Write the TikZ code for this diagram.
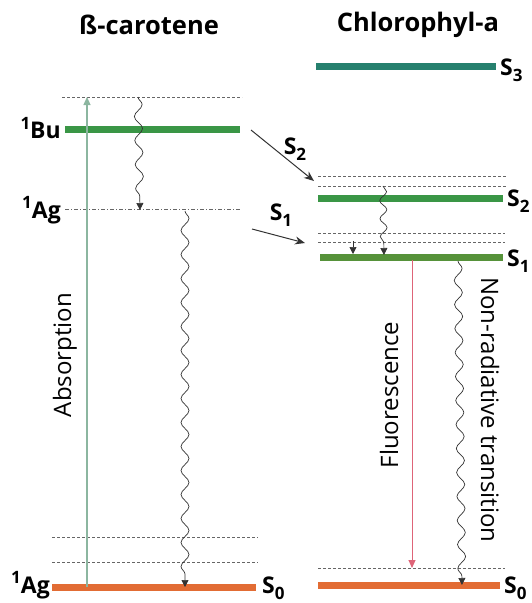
\documentclass[tikz,border=0pt]{standalone}
\usepackage{fontspec}
\setmainfont{Open Sans}
\usetikzlibrary{arrows.meta,decorations.pathmorphing}
\definecolor{levgreen}{RGB}{58,150,70}
\definecolor{levolive}{RGB}{86,146,58}
\definecolor{levteal}{RGB}{38,128,110}
\definecolor{levorange}{RGB}{226,108,52}
\definecolor{absgreen}{RGB}{140,182,160}
\definecolor{fluored}{RGB}{222,100,120}
\newcommand{\sublvl}[2]{#1\raisebox{-0.45ex}{\fontsize{17}{17}\selectfont #2}}
\newcommand{\suplvl}[2]{\raisebox{0.75ex}{\fontsize{17}{17}\selectfont #1}#2}
\begin{document}
\begin{tikzpicture}[x=1pt,y=-1pt,
  bar/.style={line width=7pt},
  sublevel/.style={densely dashed, gray!80!black, line width=0.8pt},
  dotlevel/.style={dash pattern=on 4pt off 2pt on 1pt off 2pt, gray!80!black, line width=0.8pt},
  lbl/.style={font=\fontsize{23}{23}\selectfont\bfseries, inner sep=0pt},
  ttl/.style={font=\fontsize{25.5}{25.5}\selectfont\bfseries, inner sep=0pt},
  vtext/.style={font=\fontsize{24}{24}\selectfont, inner sep=0pt},
  tip/.style={-{Triangle[width=7pt,length=7pt]}},
  wavy/.style={tip, black!80, line width=0.7pt, decorate,
    decoration={snake, amplitude=4pt, segment length=24pt, post length=6pt}},
  transfer/.style={-{Stealth[width=8pt,length=10pt]}, black!80, line width=1pt}]
\useasboundingbox (0,0) rectangle (531,603);

% titles
\node[ttl] (tcar) at (149,25) {ß-carotene};
\node[ttl] (tchl) at (418,25) {Chlorophyl-a};

% ---- beta-carotene levels ----
\draw[sublevel] (62,97) coordinate (bTopL) -- (242,97) coordinate (bTopR);
\draw[bar, levgreen] (65,129) coordinate (buL) -- (240,129) coordinate (buR);
\draw[dotlevel] (65,209) coordinate (agL) -- (240,209) coordinate (agR);
\draw[sublevel] (52,537) -- (258,537);
\draw[sublevel] (52,562) -- (258,562);
\draw[bar, levorange] (52,587) coordinate (g0L) -- (256,587) coordinate (g0R);

\node[lbl, anchor=east] (lbu) at (61,128) {\suplvl{1}{Bu}};
\node[lbl, anchor=east] (lag) at (61,210) {\suplvl{1}{Ag}};
\node[lbl, anchor=east] (lag0) at (50,585) {\suplvl{1}{Ag}};
\node[lbl, anchor=west] (ls0a) at (262,588) {\sublvl{S}{0}};

% absorption
\coordinate (absB) at (87,587);
\coordinate (absT) at (87,97);
\draw[-{Triangle[width=7pt,length=8pt]}, absgreen, line width=1.2pt] (absB) -- (absT);
\node[vtext, rotate=90] (tabs) at (65,355) {Absorption};

% internal conversion in carotene
\coordinate (w1a) at (138,97);
\coordinate (w1b) at (140,210);
\draw[wavy] (w1a) -- (w1b);
\coordinate (w2a) at (185,211);
\coordinate (w2b) at (185,587);
\draw[wavy] (w2a) -- (w2b);

% ---- chlorophyll levels ----
\draw[bar, levteal] (316,66) coordinate (s3L) -- (496,66) coordinate (s3R);
\draw[sublevel] (318,176) -- (507,176);
\draw[sublevel] (318,186) -- (507,186);
\draw[bar, levgreen] (318,198) coordinate (s2L) -- (503,198) coordinate (s2R);
\draw[sublevel] (318,233) -- (505,233);
\draw[sublevel] (318,242) -- (505,242);
\draw[bar, levolive] (320,257) coordinate (s1L) -- (503,257) coordinate (s1R);
\draw[sublevel] (318,568) -- (505,568);
\draw[bar, levorange] (318,585) coordinate (s0L) -- (500,585) coordinate (s0R);

\node[lbl, anchor=west] (ls3) at (500,70) {\sublvl{S}{3}};
\node[lbl, anchor=west] (ls2) at (507,201) {\sublvl{S}{2}};
\node[lbl, anchor=west] (ls1) at (507,261) {\sublvl{S}{1}};
\node[lbl, anchor=west] (ls0) at (504,588) {\sublvl{S}{0}};

% energy transfer carotene -> chlorophyll
\coordinate (tr2a) at (251,130);
\coordinate (tr2b) at (314,181);
\draw[transfer] (tr2a) -- (tr2b);
\node[lbl] (ltr2) at (295,149) {\sublvl{S}{2}};
\coordinate (tr1a) at (252,229);
\coordinate (tr1b) at (305,243);
\draw[transfer] (tr1a) -- (tr1b);
\node[lbl] (ltr1) at (281,215) {\sublvl{S}{1}};

% relaxation inside chlorophyll
\coordinate (r1a) at (353,241);
\coordinate (r1b) at (353,254);
\draw[tip, black!80, line width=0.7pt] (r1a) -- (r1b);
\coordinate (w3a) at (383,186);
\coordinate (w3b) at (384,255);
\draw[wavy, decoration={snake, amplitude=3.5pt, segment length=18pt, post length=6pt}] (w3a) -- (w3b);

% fluorescence
\coordinate (flA) at (412,260);
\coordinate (flB) at (412,568);
\draw[-{Triangle[width=7pt,length=8pt]}, fluored, line width=1pt] (flA) -- (flB);
\node[vtext, rotate=90] (tfl) at (389,395) {Fluorescence};

% non-radiative decay
\coordinate (nrA) at (458,261);
\coordinate (nrB) at (462,585);
\draw[wavy] (nrA) -- (nrB);
\node[vtext, rotate=-90] (tnr) at (490,410) {Non-radiative transition};
\end{tikzpicture}
\end{document}
